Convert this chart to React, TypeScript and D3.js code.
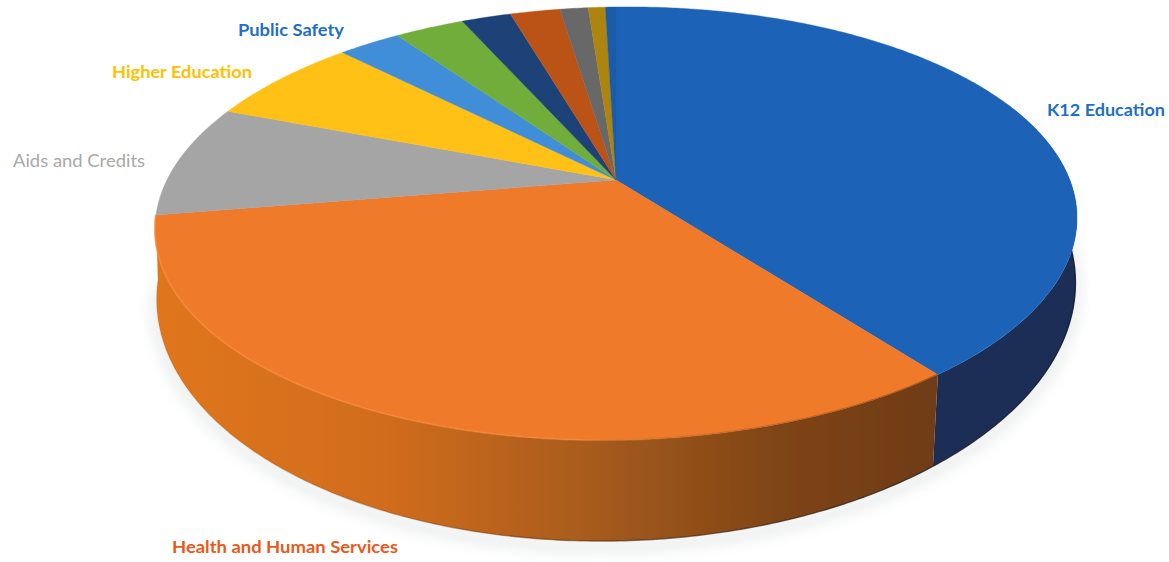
import React from "react";
import * as d3 from "d3";

// Budget shares, clockwise from twelve o'clock (percent).
const sliceNames = [
  "K12 Education",
  "Health and Human Services",
  "Aids and Credits",
  "Higher Education",
  "Public Safety",
  "Other 1",
  "Other 2",
  "Other 3",
  "Other 4",
  "Other 5",
  "Other 6",
];
const sliceValues = [39.8, 33.0, 8.4, 6.6, 2.65, 2.95, 2.1, 2.12, 1.2, 0.73, 0.45];
const sliceColors = [
  "#1f62b6",
  "#ee7a29",
  "#a5a5a5",
  "#ffc114",
  "#3f8dd8",
  "#70ad3b",
  "#1a4378",
  "#bb5212",
  "#676767",
  "#ad840f",
  "#1a5ca6",
];

const labelTexts = [
  "K12 Education",
  "Public Safety",
  "Higher Education",
  "Aids and Credits",
  "Health and Human Services",
];
const labelColors = ["#1f6fc6", "#1f6fc6", "#ffc000", "#a9a9a9", "#e9591b"];
const labelWeights = [700, 700, 700, 400, 700];
const labelX = [1047, 238, 112, 13, 172];
const labelY = [116, 36, 78, 167, 553];
const labelWidths = [118, 106, 140, 132, 226];

const WIDTH = 1169;
const HEIGHT = 562;
const TAU = Math.PI * 2;

// Perspective disc: maps a pie angle onto the page, with a small roll and shear.
type Disc = { cx: number; cy: number; rx: number; ry: number; k: number; shear: number };
const topDisc: Disc = { cx: 616, cy: 180, rx: 451.6, ry: 207.8, k: 0.2009, shear: 0 };
const baseDisc: Disc = { cx: 616, cy: 241, rx: 450, ry: 240, k: 0.2, shear: 0.02 };
const ROLL = 0.012;

function project(d: Disc, angle: number): [number, number] {
  const u = Math.sin(angle);
  const v = -Math.cos(angle);
  const w = 1 - d.k * v;
  const x0 = d.cx + (d.rx * u) / w;
  const y = d.cy + (d.ry * v) / w - ROLL * (x0 - d.cx);
  const x = x0 - d.shear * (y - 291);
  return [x, y];
}

function arcPoints(d: Disc, a0: number, a1: number): [number, number][] {
  const n = Math.max(2, Math.ceil(Math.abs(a1 - a0) / 0.01));
  return d3.range(n + 1).map((i) => project(d, a0 + ((a1 - a0) * i) / n));
}

const line = d3.line<[number, number]>();

const pieLayout = d3
  .pie<number>()
  .sort(null)
  .value((v) => v)
  .startAngle(0)
  .endAngle(TAU);

export default function App() {
  const arcs = pieLayout(sliceValues);
  const k12 = arcs[0];
  const hhs = arcs[1];

  // Side walls reach back past the silhouette; the top face covers the excess.
  const blueWall =
    line([
      ...arcPoints(topDisc, 1.2, k12.endAngle),
      ...arcPoints(baseDisc, k12.endAngle, 1.2),
    ]) + "Z";
  const orangeWall =
    line([
      ...arcPoints(topDisc, hhs.startAngle, hhs.endAngle),
      ...arcPoints(baseDisc, hhs.endAngle, hhs.startAngle),
    ]) + "Z";
  const outline = line(arcPoints(baseDisc, 1.2, hhs.endAngle)) ?? "";
  const rim = line(arcPoints(topDisc, hhs.startAngle, hhs.endAngle)) ?? "";
  const shadow =
    line(arcPoints({ ...baseDisc, cy: baseDisc.cy + 6 }, 1.2, hhs.endAngle)) ?? "";

  return (
    <svg
      width={WIDTH}
      height={HEIGHT}
      viewBox={`0 0 ${WIDTH} ${HEIGHT}`}
      style={{ position: "absolute", left: 0, top: 0, background: "#fff" }}
    >
      <defs>
        <linearGradient id="orangeSide" gradientUnits="userSpaceOnUse" x1={155} x2={940} y1={0} y2={0}>
          <stop offset="0" stopColor="#e0761f" />
          <stop offset="0.3" stopColor="#d06c1f" />
          <stop offset="0.55" stopColor="#a85c1d" />
          <stop offset="0.8" stopColor="#7e4416" />
          <stop offset="1" stopColor="#6f3b14" />
        </linearGradient>
        <linearGradient id="rimFade" gradientUnits="userSpaceOnUse" x1={155} x2={940} y1={0} y2={0}>
          <stop offset="0" stopColor="#f58a3a" stopOpacity="0.7" />
          <stop offset="0.55" stopColor="#f58a3a" stopOpacity="0.5" />
          <stop offset="0.8" stopColor="#5a3010" stopOpacity="0.3" />
          <stop offset="1" stopColor="#5a3010" stopOpacity="0.5" />
        </linearGradient>
        <linearGradient id="edgeFade" gradientUnits="userSpaceOnUse" x1={155} x2={1077} y1={0} y2={0}>
          <stop offset="0" stopColor="#8a4a18" stopOpacity="0.1" />
          <stop offset="0.5" stopColor="#4a2408" stopOpacity="0.6" />
          <stop offset="1" stopColor="#0d1a30" stopOpacity="0.9" />
        </linearGradient>
        <filter id="softShadow" x="-10%" y="-10%" width="120%" height="130%">
          <feGaussianBlur stdDeviation="7" />
        </filter>
        <filter id="softEdge" x="-5%" y="-5%" width="110%" height="110%">
          <feGaussianBlur stdDeviation="0.6" />
        </filter>
      </defs>

      <path d={shadow} fill="none" stroke="#c4c8c8" strokeWidth={10} opacity={0.4} filter="url(#softShadow)" />

      <g filter="url(#softEdge)">
        <path d={blueWall} fill="#1a2f55" />
        <path d={orangeWall} fill="url(#orangeSide)" />
        <path d={outline} fill="none" stroke="url(#edgeFade)" strokeWidth={1.4} />

        {arcs.map((a, i) => {
          const points: [number, number][] = [
            [topDisc.cx, topDisc.cy],
            ...arcPoints(topDisc, a.startAngle, a.endAngle),
          ];
          return (
            <path
              key={sliceNames[i]}
              d={line(points) + "Z"}
              fill={sliceColors[i]}
              stroke={sliceColors[i]}
              strokeWidth={0.4}
            />
          );
        })}

        <path d={rim} fill="none" stroke="url(#rimFade)" strokeWidth={2} />
      </g>

      {labelTexts.map((t, i) => (
        <text
          key={t}
          x={labelX[i]}
          y={labelY[i]}
          fill={labelColors[i]}
          fontFamily="Lato, 'Open Sans', sans-serif"
          fontSize={17}
          fontWeight={labelWeights[i]}
          textLength={labelWidths[i]}
          lengthAdjust="spacingAndGlyphs"
        >
          {t}
        </text>
      ))}
    </svg>
  );
}
